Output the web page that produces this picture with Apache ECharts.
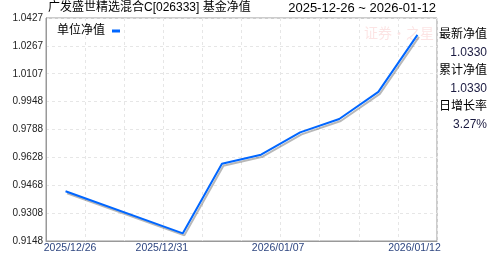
<!DOCTYPE html>
<html>
<head>
<meta charset="utf-8">
<script src="https://cdn.jsdelivr.net/npm/echarts@6/dist/echarts.min.js"></script>
<style>
html,body{margin:0;padding:0;background:#fff;}
#c{width:488px;height:255px;}
</style>
</head>
<body>
<div id="c"></div>
<script>
var titleText = '广发盛世精选混合C[026333] 基金净值';
var dateRange = '2025-12-26 ~ 2026-01-12';
var seriesName = '单位净值';
var categories = ['2025/12/26','2025/12/29','2025/12/30','2025/12/31','2026/01/05','2026/01/06','2026/01/07','2026/01/08','2026/01/09','2026/01/12'];
var navValues = [0.9433, null, null, 0.9192, 0.9591, 0.9643, 0.9771, 0.9848, 1.0003, 1.0330];
var shownXLabels = ['2025/12/26','2025/12/31','2026/01/07','2026/01/12'];
var yTickLabels = ['0.9148','0.9308','0.9468','0.9628','0.9788','0.9948','1.0107','1.0267','1.0427'];
var panelLabels = ['最新净值','累计净值','日增长率'];
var panelValues = ['1.0330','1.0330','3.27%'];
var watermark = '证券·之星';

var yMin = parseFloat(yTickLabels[0]);
var yMax = parseFloat(yTickLabels[yTickLabels.length - 1]);
var yStep = Math.round((yMax - yMin) / (yTickLabels.length - 1) * 1e7) / 1e7;

var latin = '"Liberation Sans", Arial, "Noto Sans CJK SC", sans-serif';

// per-label horizontal nudges (style only)
var labelPad = {
  '2025/12/26': [0, 0, 0, 9],
  '2025/12/31': [0, 42, 0, 0],
  '2026/01/07': [0, 44, 0, 0],
  '2026/01/12': [0, 6, 0, 0]
};
var rich = {};
shownXLabels.forEach(function (s, i) {
  rich['l' + i] = { padding: labelPad[s], fontSize: 10.5, color: '#2e4680', fontFamily: latin };
});

var graphics = [
  { type: 'text', left: 48, top: 2, style: { text: titleText, font: '12px ' + latin, fill: '#000' } },
  { type: 'text', right: 52, top: 2, style: { text: dateRange, font: '13px ' + latin, fill: '#000' } },
  { type: 'text', left: 364, top: 26, z: 0, style: { text: watermark, font: '14px "Noto Sans CJK SC"', fill: 'rgba(240,120,120,0.2)' } }
];
var panelY = [35, 71, 107];
panelLabels.forEach(function (t, i) {
  graphics.push({ type: 'text', x: 487, y: panelY[i], style: { text: t, font: '12px ' + latin, fill: '#000', align: 'right', verticalAlign: 'middle' } });
  graphics.push({ type: 'text', x: 487, y: panelY[i] + 18, style: { text: panelValues[i], font: '12px ' + latin, fill: '#1a1a40', align: 'right', verticalAlign: 'middle' } });
});

var chart = echarts.init(document.getElementById('c'), null, { renderer: 'canvas' });
chart.setOption({
  animation: false,
  backgroundColor: '#fff',
  graphic: graphics,
  legend: {
    left: 52, top: 20,
    align: 'right',
    icon: 'rect',
    itemWidth: 8, itemHeight: 3,
    textStyle: { fontSize: 12, color: '#000', fontFamily: latin, padding: [0, 2, 0, 0] },
    data: [seriesName]
  },
  grid: { left: 46, right: 51, top: 18, bottom: 14, show: true, borderColor: '#999', borderWidth: 1, containLabel: false },
  xAxis: {
    type: 'category',
    data: categories,
    boundaryGap: true,
    axisLine: { lineStyle: { color: '#999' } },
    axisTick: { show: false },
    axisLabel: {
      margin: 2,
      interval: function (idx, val) { return shownXLabels.indexOf(val) >= 0; },
      formatter: function (val) { var i = shownXLabels.indexOf(val); return '{l' + i + '|' + val + '}'; },
      rich: rich
    },
    splitLine: { show: true, interval: 0, lineStyle: { color: '#e6e6e6', type: [3, 3] } }
  },
  yAxis: {
    type: 'value',
    min: yMin, max: yMax, interval: yStep,
    axisLine: { show: true, lineStyle: { color: '#999' } },
    axisTick: { show: false },
    axisLabel: {
      margin: 3, fontSize: 10, color: '#222', fontFamily: latin,
      formatter: function (v) {
        var best = yTickLabels[0], d = 1e9;
        yTickLabels.forEach(function (t) { var dd = Math.abs(parseFloat(t) - v); if (dd < d) { d = dd; best = t; } });
        return best;
      }
    },
    splitLine: { show: true, lineStyle: { color: '#e6e6e6', type: [3, 3] } }
  },
  series: [{
    name: seriesName,
    type: 'line',
    data: navValues,
    connectNulls: true,
    symbol: 'none',
    color: '#0066ff',
    lineStyle: { width: 2, color: '#0066ff', shadowColor: 'rgba(0,0,0,0.28)', shadowOffsetX: 1.5, shadowOffsetY: 2, shadowBlur: 0 }
  }]
});
</script>
</body>
</html>
